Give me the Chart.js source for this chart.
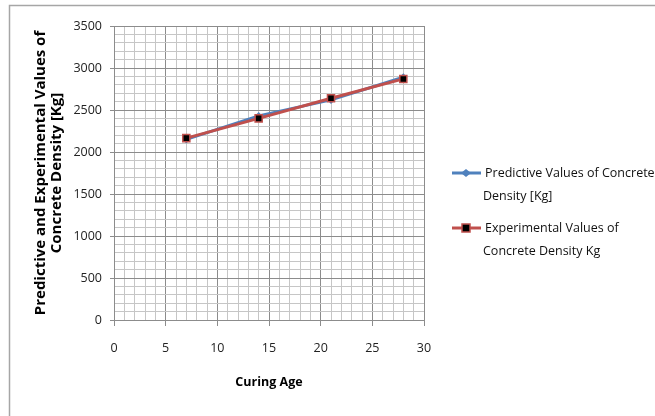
<!DOCTYPE html>
<html>
<head>
<meta charset="utf-8">
<script src="https://cdn.jsdelivr.net/npm/chart.js@4"></script>
<style>
  html, body { margin: 0; padding: 0; background: #fff; }
  #wrap { width: 655px; height: 416px; }
</style>
</head>
<body>
<div id="wrap"><canvas id="myChart" width="655" height="416"></canvas></div>
<script>
const curingAge = [ 7, 14, 21, 28 ];
const predictiveDensity = [ 2150, 2430, 2620, 2890 ];
const experimentalDensity = [ 2165, 2400, 2640, 2870 ];
const seriesNames = [ 'Predictive Values of Concrete Density [Kg]', 'Experimental Values of Concrete Density Kg' ];
const legendLines = [ [ 'Predictive Values of Concrete', 'Density [Kg]' ], [ 'Experimental Values of', 'Concrete Density Kg' ] ];
const xTitle = 'Curing Age';
const yTitle = [ 'Predictive and Experimental Values of', 'Concrete Density [Kg]' ];

const FONT = "'Open Sans', sans-serif";
const BLUE = '#4F81BD';
const RED = '#C0504D';

const toPoints = ( ys ) => curingAge.map( ( x, i ) => ( { x: x, y: ys[ i ] } ) );

// white background + frame (left and top edges only, like the original crop)
const framePlugin = {
    id: 'frame',
    beforeDraw( chart )
    {
        const c = chart.ctx;
        c.save();
        c.fillStyle = '#fff';
        c.fillRect( 0, 0, chart.width, chart.height );
        c.strokeStyle = '#a6a6a6';
        c.lineWidth = 1.5;
        c.beginPath();
        c.moveTo( 9.5, chart.height );
        c.lineTo( 9.5, 5.5 );
        c.lineTo( chart.width, 5.5 );
        c.stroke();
        c.restore();
    }
};

// legend on the right, wrapped like the original
const legendPlugin = {
    id: 'sideLegend',
    afterDraw( chart )
    {
        const c = chart.ctx;
        const rows = [
            { y: 173, color: BLUE, marker: 'diamond', lines: legendLines[ 0 ] },
            { y: 228, color: RED, marker: 'square', lines: legendLines[ 1 ] }
        ];
        c.save();
        c.font = '12.5px ' + FONT;
        c.textBaseline = 'middle';
        rows.forEach( r =>
        {
            c.strokeStyle = r.color;
            c.lineWidth = 3;
            c.beginPath();
            c.moveTo( 452, r.y );
            c.lineTo( 481, r.y );
            c.stroke();
            if ( r.marker === 'diamond' )
            {
                c.fillStyle = r.color;
                c.beginPath();
                c.moveTo( 466, r.y - 4 );
                c.lineTo( 471, r.y );
                c.lineTo( 466, r.y + 4 );
                c.lineTo( 461, r.y );
                c.closePath();
                c.fill();
            } else
            {
                c.fillStyle = '#000';
                c.fillRect( 462, r.y - 4, 8, 8 );
                c.lineWidth = 1.5;
                c.strokeStyle = r.color;
                c.strokeRect( 462, r.y - 4, 8, 8 );
            }
            c.fillStyle = '#111';
            r.lines.forEach( ( t, i ) => c.fillText( t, i === 0 ? 485 : 483, r.y + i * 23 ) );
        } );
        c.restore();
    }
};

const major = ( v, step ) => Math.abs( v % step ) < 1e-6;

new Chart( document.getElementById( 'myChart' ), {
    type: 'line',
    data: {
        datasets: [ {
            label: seriesNames[ 0 ],
            data: toPoints( predictiveDensity ),
            borderColor: BLUE,
            backgroundColor: BLUE,
            borderWidth: 3,
            pointStyle: 'rectRot',
            pointRadius: 4,
            pointBorderWidth: 0,
            order: 1
        },
        {
            label: seriesNames[ 1 ],
            data: toPoints( experimentalDensity ),
            borderColor: RED,
            backgroundColor: '#000',
            borderWidth: 3,
            pointStyle: 'rect',
            pointRadius: 5,
            pointBorderColor: RED,
            pointBorderWidth: 1.5,
            order: 0
        } ]
    },
    options: {
        responsive: false,
        animation: false,
        events: [],
        layout: { padding: { left: 33, top: 26, right: 231, bottom: 22 } },
        plugins: { legend: { display: false }, tooltip: { enabled: false } },
        scales: {
            x: {
                type: 'linear',
                min: 0,
                max: 30,
                afterFit: ( s ) => { s.height = 74; },
                ticks: {
                    stepSize: 1,
                    autoSkip: false,
                    maxRotation: 0,
                    padding: 15,
                    color: '#222',
                    font: { family: FONT, size: 12.5 },
                    callback: ( v ) => major( v, 5 ) ? v : ''
                },
                grid: {
                    color: ( ctx ) => major( ctx.tick.value, 5 ) ? '#8c8c8c' : '#c6c6c6',
                    tickColor: ( ctx ) => major( ctx.tick.value, 5 ) ? '#8c8c8c' : 'rgba(0,0,0,0)',
                    tickLength: 6
                },
                border: { color: '#8c8c8c' },
                title: {
                    display: true,
                    text: xTitle,
                    color: '#000',
                    font: { family: FONT, size: 12.5, weight: 'bold' },
                    padding: { top: 4, bottom: 4 }
                }
            },
            y: {
                min: 0,
                max: 3500,
                afterFit: ( s ) => { s.width = 81; },
                ticks: {
                    stepSize: 100,
                    autoSkip: false,
                    padding: 8,
                    color: '#222',
                    font: { family: FONT, size: 12.5 },
                    callback: ( v ) => major( v, 500 ) ? v : ''
                },
                grid: {
                    color: ( ctx ) => major( ctx.tick.value, 500 ) ? '#8c8c8c' : '#c6c6c6',
                    tickColor: ( ctx ) => major( ctx.tick.value, 500 ) ? '#8c8c8c' : 'rgba(0,0,0,0)',
                    tickLength: 4
                },
                border: { color: '#8c8c8c' },
                title: {
                    display: true,
                    text: yTitle,
                    color: '#000',
                    font: { family: FONT, size: 15, weight: 'bold', lineHeight: 1.07 },
                    padding: 0
                }
            }
        }
    },
    plugins: [ framePlugin, legendPlugin ]
} );
</script>
</body>
</html>
